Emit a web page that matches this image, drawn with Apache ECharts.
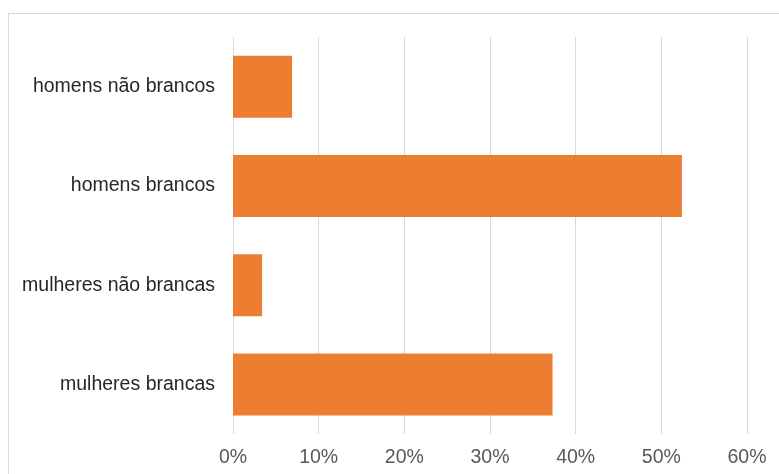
<!DOCTYPE html>
<html>
<head>
<meta charset="utf-8">
<script src="https://cdn.jsdelivr.net/npm/echarts@6/dist/echarts.min.js"></script>
<style>html,body{margin:0;padding:0;background:#fff}#c{width:779px;height:474px}</style>
</head>
<body>
<div id="c"></div>
<script>
var categories = ["mulheres brancas", "mulheres não brancas", "homens brancos", "homens não brancos"];
var values = [37.3, 3.4, 52.4, 6.9];
var tickMax = 60;
var tickStep = 10;

var chart = echarts.init(document.getElementById('c'), null, {renderer: 'canvas'});
chart.setOption({
  animation: false,
  backgroundColor: '#ffffff',
  graphic: [{
    type: 'rect',
    shape: {x: 8.5, y: 13.5, width: 800, height: 500},
    style: {fill: 'none', stroke: '#d9d9d9', lineWidth: 1},
    silent: true
  }],
  grid: {left: 233, right: 32, top: 37, bottom: 40, containLabel: false},
  xAxis: {
    type: 'value',
    min: 0,
    max: tickMax,
    interval: tickStep,
    axisLine: {show: false},
    axisTick: {show: false},
    splitLine: {show: true, lineStyle: {color: '#d9d9d9', width: 1}},
    axisLabel: {
      formatter: function (v) { return v + '%'; },
      color: '#595959',
      fontFamily: '"Liberation Sans", Arial, sans-serif',
      fontSize: 19.5,
      margin: 14
    }
  },
  yAxis: {
    type: 'category',
    data: categories,
    axisLine: {show: false},
    axisTick: {show: false},
    axisLabel: {
      color: '#262626',
      fontFamily: '"Liberation Sans", Arial, sans-serif',
      fontSize: 19.5,
      margin: 18
    }
  },
  series: [{
    type: 'bar',
    data: values,
    barWidth: 62,
    itemStyle: {color: '#ED7D31'}
  }]
});
</script>
</body>
</html>
